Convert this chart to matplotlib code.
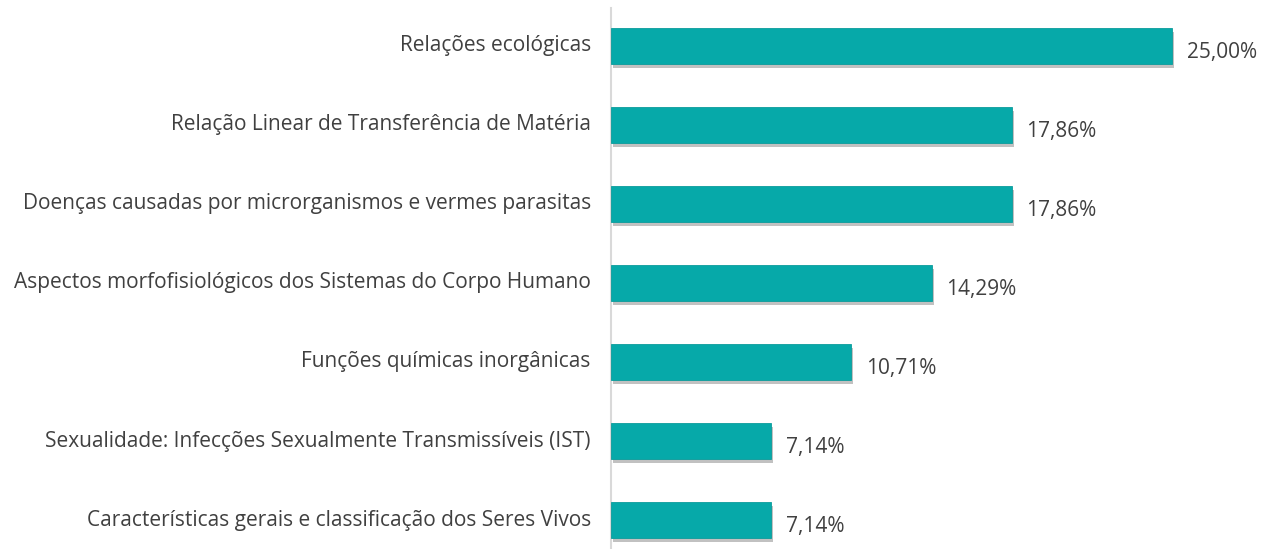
import matplotlib.pyplot as plt
import matplotlib.patheffects as pe

categorias = [
    "Relações ecológicas",
    "Relação Linear de Transferência de Matéria",
    "Doenças causadas por microrganismos e vermes parasitas",
    "Aspectos morfofisiológicos dos Sistemas do Corpo Humano",
    "Funções químicas inorgânicas",
    "Sexualidade: Infecções Sexualmente Transmissíveis (IST)",
    "Características gerais e classificação dos Seres Vivos",
]
valores = [25.00, 17.86, 17.86, 14.29, 10.71, 7.14, 7.14]
rotulos = ["25,00%", "17,86%", "17,86%", "14,29%", "10,71%", "7,14%", "7,14%"]

plt.rcParams['font.family'] = ['Open Sans', 'DejaVu Sans']

fig = plt.figure(figsize=(12.79, 5.49), dpi=100)
ax = fig.add_axes([611 / 1279, 0, 668 / 1279, 1])

pos = list(range(len(categorias)))
bars = ax.barh(pos, valores, height=0.46, color="#06A9A9", edgecolor="#0B9C9C",
               linewidth=0.6, zorder=3)
for b in bars:
    b.set_path_effects([pe.SimplePatchShadow(offset=(1.5, -3), shadow_rgbFace="#666666", alpha=0.4),
                        pe.Normal()])

ax.set_xlim(0, 668 / 561 * 25)
ax.set_ylim(6.367, -0.582)

for p, v, r in zip(pos, valores, rotulos):
    ax.text(v + 0.65, p + 0.08, r, va="center", ha="left", fontsize=15,
            color="#404040")

for p, c in zip(pos, categorias):
    ax.text(-0.9, p, c, va="center", ha="right", fontsize=15, color="#404040")

for s in ["top", "right", "bottom"]:
    ax.spines[s].set_visible(False)
ax.spines["left"].set_color("#D9D9D9")
ax.spines["left"].set_linewidth(1.5)
ax.spines["left"].set_bounds(-0.48, 6.367)
ax.set_xticks([])
ax.set_yticks([])

fig.savefig("out.png", dpi=100)
